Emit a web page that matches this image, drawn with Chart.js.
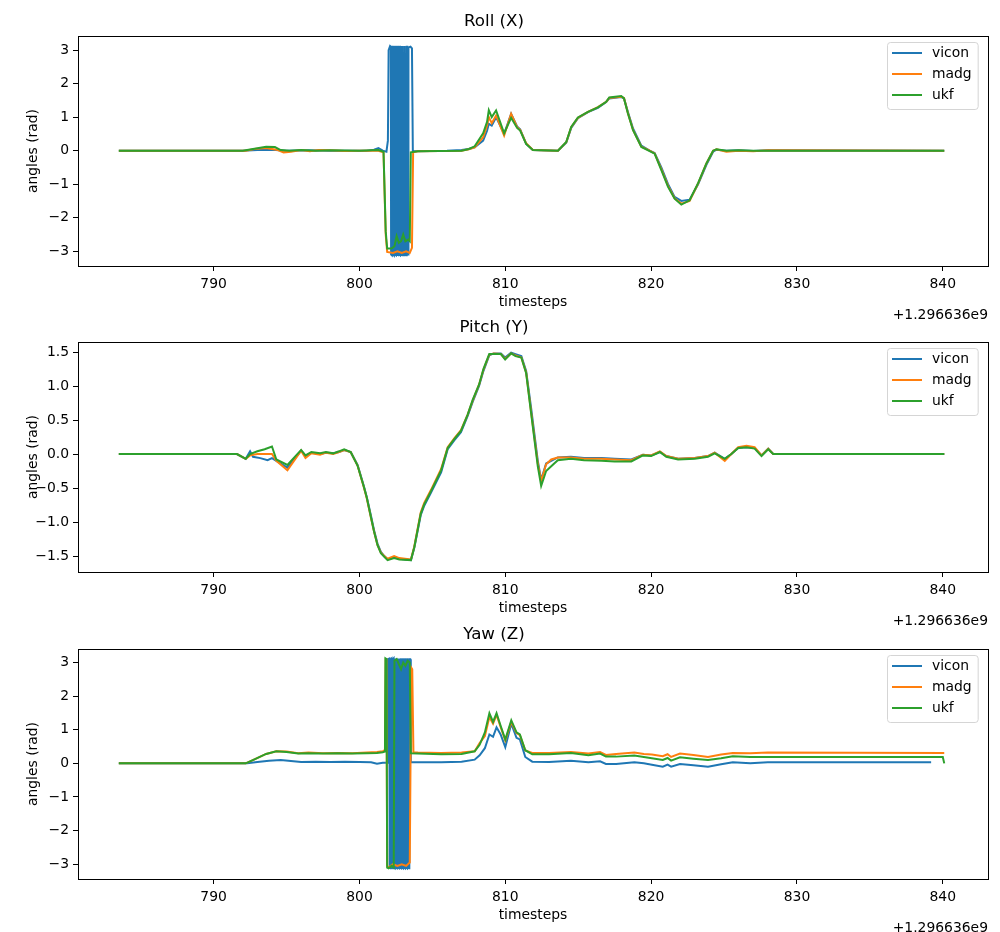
<!DOCTYPE html>
<html>
<head>
<meta charset="utf-8">
<script src="https://cdn.jsdelivr.net/npm/chart.js@4.4.0/dist/chart.umd.min.js"></script>
<style>
  html, body { margin: 0; padding: 0; background: #fff; }
  #wrap { position: relative; width: 1000px; height: 932px; overflow: hidden; }
  #wrap canvas { position: absolute; left: 0; }
</style>
</head>
<body>
<div id="wrap">
  <canvas id="roll" width="1000" height="330" style="top:0px"></canvas>
  <canvas id="pitch" width="1000" height="330" style="top:306px"></canvas>
  <canvas id="yaw" width="1000" height="330" style="top:613px"></canvas>
</div>
<script>
// timestamps are shown relative to the offset +1.296636e9
const offsetLabel = '+1.296636e9'
const seriesNames = ['vicon', 'madg', 'ukf']
const seriesColors = ['#1f77b4', '#ff7f0e', '#2ca02c']
const xTicks = [790, 800, 810, 820, 830, 840]
const rollTicks = [-3, -2, -1, 0, 1, 2, 3]
const pitchTicks = [-1.5, -1.0, -0.5, 0.0, 0.5, 1.0, 1.5]
const yawTicks = [-3, -2, -1, 0, 1, 2, 3]

const rollVicon = [[783.5,0],[792.0,0],[793.0,0.02],[794.0,0.03],[795.0,0.0],[796.5,0.01],[798,0.0],[800.5,0.0],[801.0,0.03],[801.3,0.08],[801.6,0.0],[801.85,-0.03],[801.95,0.3],[802.0,3.0],[802.1,3.12],
  [802.15,3.1],[802.17,-3.1],[802.22,-3.12],[802.24,3.1],[802.3,3.12],[802.32,-3.1],[802.36,-3.12],[802.38,3.1],[802.42,3.12],[802.44,-3.1],[802.5,-3.12],[802.52,3.1],[802.56,3.12],[802.58,-3.1],[802.64,-3.11],[802.66,3.1],[802.7,3.12],[802.72,-3.1],[802.78,-3.12],[802.8,3.1],[802.84,3.12],[802.86,-3.1],[802.92,-3.12],[802.94,3.1],[802.98,3.12],[803.0,-3.1],[803.06,-3.12],[803.08,3.1],[803.12,3.12],[803.14,-3.1],[803.22,-3.12],[803.24,3.1],[803.28,3.1],[803.3,-3.1],[803.34,-3.1],[803.36,3.08],[803.5,3.1],[803.6,3.05],[803.66,0.0],[803.8,-0.02],
  [806,0.0],[807,0.02],[807.5,0.05],[807.9,0.1],[808.48,0.3],[808.75,0.6],[808.87,0.8],[809.07,0.75],[809.37,1.0],[809.92,0.5],[810.4,1.1],[810.81,0.72],[811.02,0.64],[811.43,0.2],[811.89,0.02],[813.61,0],[814.18,0.24],[814.52,0.68],[814.98,0.97],[815.67,1.15],[816.35,1.28],[816.92,1.45],[817.13,1.56],[817.95,1.6],[818.14,1.56],[818.41,1.15],[818.76,0.66],[819.33,0.15],[819.9,0.0],[820.24,-0.07],[820.7,-0.5],[821.16,-1.0],[821.61,-1.38],[822.07,-1.5],[822.64,-1.46],[823.22,-1.0],[823.79,-0.42],[824.25,-0.03],[824.48,0.03],[825.16,0.0],[826,0.01],[827,-0.01],[828,0.01],[840.1,0.0]]
const rollMadg = [[783.5,0],[792.2,0],[792.8,0.05],[793.6,0.08],[794.4,0.02],[794.8,-0.05],[795.3,-0.03],[796,0.02],[796.6,-0.02],[797.2,0.02],[798,0.01],[799,-0.01],[800,0],[801.3,0.0],[801.65,-0.05],[801.8,-2.5],[801.9,-3.02],[802.3,-3.05],[802.6,-3.0],[802.9,-3.05],[803.2,-3.0],[803.45,-3.05],[803.6,-2.9],[803.68,-0.05],[804,-0.02],
  [807,0.0],[807.5,0.04],[807.9,0.1],[808.48,0.4],[808.75,0.75],[808.87,1.0],[809.07,0.82],[809.37,1.05],[809.92,0.45],[810.4,1.1],[810.81,0.7],[811.02,0.62],[811.43,0.22],[811.89,0.02],[813.61,0],[814.18,0.25],[814.52,0.7],[814.98,0.98],[815.67,1.16],[816.35,1.3],[816.92,1.46],[817.13,1.57],[817.95,1.61],[818.14,1.57],[818.41,1.12],[818.76,0.62],[819.33,0.12],[819.9,0.0],[820.24,-0.08],[820.7,-0.55],[821.16,-1.05],[821.61,-1.42],[822.07,-1.58],[822.64,-1.5],[823.22,-0.98],[823.79,-0.38],[824.25,0.0],[824.48,0.04],[825.16,-0.03],[826,0.0],[827,-0.02],[828,0.01],[840.1,0.0]]
const rollUkf = [[783.5,0],[792.0,0],[792.8,0.06],[793.6,0.12],[794.2,0.11],[794.6,0.02],[795.2,0.0],[796,0.02],[797,0.0],[798,0.01],[800,0],[801.3,0.02],[801.65,-0.03],[801.8,-2.4],[801.9,-2.92],[802.2,-2.92],[802.4,-2.85],[802.55,-2.55],[802.7,-2.75],[802.85,-2.7],[803.0,-2.5],[803.15,-2.7],[803.35,-2.65],[803.45,-2.7],[803.52,-0.05],[804,-0.02],
  [807,0.0],[807.5,0.05],[807.9,0.13],[808.48,0.52],[808.75,0.86],[808.87,1.21],[809.07,1.0],[809.37,1.2],[809.92,0.52],[810.4,0.98],[810.81,0.68],[811.02,0.6],[811.43,0.2],[811.89,0.02],[813.61,0],[814.18,0.26],[814.52,0.71],[814.98,0.99],[815.67,1.16],[816.35,1.29],[816.92,1.46],[817.13,1.59],[817.95,1.63],[818.14,1.56],[818.41,1.11],[818.76,0.61],[819.33,0.11],[819.9,-0.01],[820.24,-0.09],[820.7,-0.58],[821.16,-1.08],[821.61,-1.43],[822.07,-1.61],[822.64,-1.48],[823.22,-0.97],[823.79,-0.38],[824.25,0.0],[824.48,0.04],[825.16,0.0],[826,0.01],[827,0.0],[828,0.0],[840.1,0.0]]

const pitchVicon = [[783.5,0],[791.6,0],[792.2,-0.07],[792.5,0.04],[792.7,-0.04],[793.2,-0.06],[793.7,-0.09],[794.0,-0.06],[794.3,-0.1],[795.06,-0.2],[796.0,0.05],[796.3,-0.03],[796.7,0.02],[797.3,0.0],[797.7,0.02],[798.2,0.01],[798.6,0.03],[798.95,0.06],[799.4,0.03],[799.87,-0.16],[800.3,-0.47],[800.5,-0.63],[800.8,-0.92],[801.0,-1.12],[801.24,-1.32],[801.47,-1.44],[801.7,-1.5],[801.93,-1.55],[802.38,-1.52],[802.73,-1.54],[803.53,-1.56],[803.76,-1.38],[804.2,-0.9],[804.44,-0.76],[804.9,-0.57],[805.6,-0.27],[806.05,0.07],[806.5,0.2],[806.96,0.32],[807.42,0.56],[807.77,0.77],[808.2,1.0],[808.5,1.22],[808.9,1.45],[809.2,1.48],[809.7,1.48],[809.99,1.42],[810.4,1.49],[810.7,1.47],[811.1,1.44],[811.43,1.22],[811.77,0.68],[812.23,-0.1],[812.46,-0.38],[812.8,-0.14],[813.15,-0.1],[813.6,-0.05],[814.5,-0.04],[815.4,-0.06],[816.6,-0.06],[817.5,-0.07],[818.64,-0.08],[819.44,-0.01],[820.0,-0.02],[820.6,0.03],[821.04,-0.03],[821.85,-0.07],[822.99,-0.06],[823.9,-0.03],[824.36,0.02],[825.05,-0.07],[825.5,0.0],[825.97,0.09],[826.54,0.1],[827.1,0.09],[827.57,-0.02],[828.03,0.08],[828.37,0.0],[840.1,0.0]]
const pitchMadg = [[783.5,0],[791.6,0],[792.2,-0.07],[792.5,-0.02],[793.0,0.0],[793.5,0.0],[794.0,0.0],[794.3,-0.1],[795.06,-0.24],[796.0,0.05],[796.3,-0.06],[796.7,0.01],[797.3,-0.01],[797.7,0.02],[798.2,0.0],[798.6,0.03],[798.95,0.06],[799.4,0.03],[799.87,-0.17],[800.3,-0.49],[800.5,-0.65],[800.8,-0.95],[801.0,-1.14],[801.24,-1.34],[801.47,-1.45],[801.7,-1.5],[801.93,-1.54],[802.38,-1.5],[802.73,-1.53],[803.53,-1.55],[803.76,-1.36],[804.2,-0.86],[804.44,-0.72],[804.9,-0.53],[805.6,-0.22],[806.05,0.1],[806.5,0.23],[806.96,0.35],[807.42,0.58],[807.77,0.79],[808.2,1.02],[808.5,1.24],[808.9,1.46],[809.2,1.48],[809.7,1.47],[809.99,1.4],[810.4,1.48],[810.7,1.45],[811.1,1.42],[811.43,1.2],[811.77,0.62],[812.23,-0.14],[812.46,-0.4],[812.8,-0.15],[813.15,-0.08],[813.6,-0.05],[814.5,-0.05],[815.4,-0.07],[816.6,-0.07],[817.5,-0.08],[818.64,-0.09],[819.44,-0.01],[820.0,-0.02],[820.6,0.04],[821.04,-0.03],[821.85,-0.07],[822.99,-0.06],[823.9,-0.03],[824.36,0.02],[825.05,-0.1],[825.5,0.0],[825.97,0.1],[826.54,0.12],[827.1,0.1],[827.57,-0.02],[828.03,0.08],[828.37,0.0],[840.1,0.0]]
const pitchUkf = [[783.5,0],[791.6,0],[792.2,-0.07],[792.5,0.0],[793.0,0.04],[793.5,0.07],[794.0,0.11],[794.3,-0.08],[795.06,-0.16],[796.0,0.06],[796.3,-0.02],[796.7,0.03],[797.3,0.01],[797.7,0.03],[798.2,0.01],[798.6,0.04],[798.95,0.07],[799.4,0.03],[799.87,-0.17],[800.3,-0.48],[800.5,-0.64],[800.8,-0.94],[801.0,-1.14],[801.24,-1.34],[801.47,-1.46],[801.7,-1.51],[801.93,-1.56],[802.38,-1.53],[802.73,-1.55],[803.53,-1.56],[803.76,-1.37],[804.2,-0.88],[804.44,-0.74],[804.9,-0.55],[805.6,-0.24],[806.05,0.09],[806.5,0.22],[806.96,0.34],[807.42,0.58],[807.77,0.8],[808.2,1.02],[808.5,1.25],[808.9,1.47],[809.2,1.47],[809.7,1.47],[809.99,1.39],[810.4,1.48],[810.7,1.44],[811.1,1.42],[811.43,1.19],[811.77,0.6],[812.23,-0.18],[812.46,-0.47],[812.8,-0.25],[813.15,-0.18],[813.6,-0.09],[814.5,-0.07],[815.4,-0.09],[816.6,-0.1],[817.5,-0.11],[818.64,-0.11],[819.44,-0.02],[820.0,-0.03],[820.6,0.03],[821.04,-0.04],[821.85,-0.08],[822.99,-0.07],[823.9,-0.04],[824.36,0.01],[825.05,-0.07],[825.5,0.0],[825.97,0.09],[826.54,0.1],[827.1,0.08],[827.57,-0.03],[828.03,0.07],[828.37,0.0],[840.1,0.0]]

const yawVicon = [[783.5,0],[792.3,0],[793.0,0.04],[793.8,0.08],[794.6,0.1],[795.3,0.07],[796.0,0.04],[797,0.05],[798,0.04],[799,0.05],[800,0.04],[800.8,0.03],[801.2,-0.01],[801.6,0.02],[801.9,0.02],[801.95,3.1],
  [802.05,3.12],[802.07,-3.1],[802.13,-3.12],[802.15,3.1],[802.2,3.12],[802.22,-3.1],[802.28,-3.12],[802.3,3.1],[802.34,3.12],[802.36,-3.1],[802.42,-3.12],[802.44,3.1],[802.48,3.12],[802.5,-3.1],[802.56,-3.12],[802.58,3.1],[802.62,3.12],[802.64,-3.1],[802.7,-3.12],[802.72,3.1],[802.76,3.12],[802.78,-3.1],[802.84,-3.12],[802.86,3.1],[802.9,3.12],[802.92,-3.1],[802.98,-3.12],[803.0,3.1],[803.04,3.12],[803.06,-3.1],[803.12,-3.12],[803.14,3.1],[803.18,3.12],[803.2,-3.1],[803.26,-3.12],[803.28,3.1],[803.32,3.12],[803.34,-3.1],[803.4,-3.12],[803.42,3.1],[803.48,3.1],[803.52,0.03],
  [804,0.03],[805.6,0.03],[807.0,0.05],[807.9,0.11],[808.24,0.24],[808.6,0.45],[808.91,0.86],[809.16,0.79],[809.4,1.07],[809.68,0.86],[810.0,0.48],[810.41,1.18],[810.77,0.76],[811.0,0.71],[811.37,0.19],[811.85,0.05],[813,0.04],[814.5,0.08],[815.7,0.03],[816.5,0.06],[816.9,-0.02],[817.6,-0.02],[818.85,0.03],[819.5,0.0],[820.05,-0.04],[820.8,-0.1],[821.13,-0.04],[821.37,-0.1],[821.98,-0.02],[822.9,-0.06],[823.9,-0.1],[824.8,-0.03],[825.6,0.03],[826.8,0.0],[828.0,0.03],[839.2,0.03]]
const yawMadg = [[783.5,0],[792.2,0],[792.8,0.12],[793.6,0.28],[794.3,0.36],[795.0,0.35],[795.8,0.3],[796.5,0.32],[797.5,0.3],[798.5,0.31],[799.5,0.3],[800.5,0.32],[801.2,0.34],[801.6,0.36],[801.75,0.4],[801.8,3.1],[801.85,3.1],[801.9,-3.05],[802.0,-3.1],[802.3,-3.0],[802.6,-3.05],[802.9,-3.0],[803.2,-3.05],[803.45,-2.95],[803.55,2.85],[803.62,2.8],[803.7,0.33],
  [804,0.32],[805.6,0.31],[807.0,0.32],[807.9,0.36],[808.24,0.6],[808.6,0.81],[808.91,1.38],[809.16,1.18],[809.4,1.44],[809.68,1.08],[810.0,0.68],[810.41,1.23],[810.77,0.9],[811.0,0.84],[811.37,0.38],[811.85,0.31],[813,0.31],[814.5,0.34],[815.7,0.29],[816.5,0.34],[816.9,0.25],[817.6,0.28],[818.85,0.32],[819.5,0.28],[820.05,0.26],[820.8,0.21],[821.13,0.27],[821.37,0.19],[821.98,0.29],[822.9,0.25],[823.9,0.19],[824.8,0.26],[825.6,0.31],[826.8,0.3],[828.0,0.32],[840.1,0.31]]
const yawUkf = [[783.5,0],[792.2,0],[792.8,0.12],[793.6,0.28],[794.3,0.36],[795.0,0.34],[795.8,0.29],[796.5,0.3],[797.5,0.29],[798.5,0.3],[799.5,0.29],[800.5,0.3],[801.2,0.31],[801.6,0.33],[801.75,0.35],[801.78,3.12],[801.85,3.1],[801.9,-3.1],[802.0,-3.12],[802.2,-3.05],[802.35,-3.1],[802.4,3.05],[802.55,3.1],[802.7,2.95],[802.85,2.8],[803.0,3.0],[803.15,2.9],[803.3,3.05],[803.45,3.0],[803.52,0.3],
  [804,0.29],[805.6,0.27],[807.0,0.28],[807.9,0.36],[808.24,0.55],[808.6,0.92],[808.91,1.49],[809.16,1.23],[809.4,1.49],[809.68,1.12],[810.0,0.71],[810.41,1.28],[810.77,0.92],[811.0,0.86],[811.37,0.39],[811.85,0.27],[813,0.27],[814.5,0.31],[815.7,0.24],[816.5,0.29],[816.9,0.2],[817.6,0.2],[818.85,0.23],[819.5,0.19],[820.05,0.155],[820.8,0.1],[821.13,0.16],[821.37,0.08],[821.98,0.18],[822.9,0.14],[823.9,0.1],[824.8,0.15],[825.6,0.21],[826.8,0.19],[828.0,0.19],[840.0,0.19],[840.1,0.0]]

const FONT = 'DejaVu Sans'

// axes box on all four sides, like matplotlib spines
const frame = {
  id: 'frame',
  afterDraw(chart) {
    const { ctx, chartArea: a } = chart
    ctx.save()
    ctx.strokeStyle = '#000'
    ctx.lineWidth = 1
    ctx.strokeRect(Math.round(a.left) + 0.5, Math.round(a.top) + 0.5, Math.round(a.right - a.left), Math.round(a.bottom - a.top))
    ctx.restore()
  }
}

// legend drawn inside the plot, upper right
const boxLegend = {
  id: 'boxLegend',
  afterDraw(chart) {
    const { ctx, chartArea: a } = chart
    const sets = chart.data.datasets
    ctx.save()
    ctx.font = '13.9px "' + FONT + '"'
    const tw = Math.max(...sets.map(d => ctx.measureText(d.label).width))
    const w = 45 + tw + 6, h = 67
    const x = Math.round(a.right - 10 - w), y = Math.round(a.top + 6)
    ctx.beginPath()
    ctx.roundRect(x + 0.5, y + 0.5, w, h, 3)
    ctx.fillStyle = 'rgba(255,255,255,0.8)'
    ctx.fill()
    ctx.strokeStyle = '#d5d5d5'
    ctx.lineWidth = 1
    ctx.stroke()
    sets.forEach((d, i) => {
      const cy = y + 11 + i * 21
      ctx.strokeStyle = d.borderColor
      ctx.lineWidth = 2
      ctx.beginPath()
      ctx.moveTo(x + 5, cy)
      ctx.lineTo(x + 35, cy)
      ctx.stroke()
      ctx.fillStyle = '#000'
      ctx.textBaseline = 'middle'
      ctx.textAlign = 'left'
      ctx.fillText(d.label, x + 45, cy)
    })
    ctx.restore()
  }
}

const offsetText = {
  id: 'offsetText',
  afterDraw(chart) {
    const { ctx, chartArea: a } = chart
    ctx.save()
    ctx.font = '13.9px "' + FONT + '"'
    ctx.fillStyle = '#000'
    ctx.textAlign = 'right'
    ctx.textBaseline = 'middle'
    ctx.fillText(offsetLabel, a.right, a.bottom + 49)
    ctx.restore()
  }
}

const fmt = (dec) => (v) => (v < 0 ? '\u2212' : '') + Math.abs(v).toFixed(dec)

function makeChart(id, title, series, yMin, yMax, yTicks, dec) {
  new Chart(document.getElementById(id), {
    type: 'line',
    data: {
      datasets: series.map((s, i) => ({
        label: seriesNames[i],
        data: s.map(([x, y]) => ({ x, y })),
        borderColor: seriesColors[i],
        backgroundColor: seriesColors[i],
        borderWidth: 2,
        pointRadius: 0,
        tension: 0,
        fill: false,
        order: 2 - i
      }))
    },
    options: {
      responsive: false,
      animation: false,
      devicePixelRatio: 1,
      layout: { padding: { left: 0, right: 12, top: 0, bottom: 0 } },
      plugins: {
        legend: { display: false },
        tooltip: { enabled: false },
        title: {
          display: true,
          text: title,
          color: '#000',
          font: { family: FONT, size: 16.7, weight: 'normal', lineHeight: 1.2 },
          padding: { top: 12, bottom: 4 }
        }
      },
      scales: {
        x: {
          type: 'linear',
          min: 780.7,
          max: 843.1,
          afterBuildTicks: (axis) => { axis.ticks = xTicks.map(v => ({ value: v })) },
          afterFit: (axis) => { axis.height = 64 },
          ticks: { color: '#000', padding: 5, maxRotation: 0, autoSkip: false, font: { family: FONT, size: 13.9 }, callback: fmt(0) },
          grid: { display: true, drawOnChartArea: false, drawTicks: true, tickLength: 5, tickColor: '#000', tickWidth: 1 },
          border: { display: false },
          title: { display: true, text: 'timesteps', color: '#000', font: { family: FONT, size: 13.9, lineHeight: 1.2 }, padding: { top: 0, bottom: 19.5 } }
        },
        y: {
          type: 'linear',
          min: yMin,
          max: yMax,
          afterBuildTicks: (axis) => { axis.ticks = yTicks.map(v => ({ value: v })) },
          afterFit: (axis) => { axis.width = 78 },
          ticks: { color: '#000', padding: 4, autoSkip: false, font: { family: FONT, size: 13.9 }, callback: fmt(dec) },
          grid: { display: true, drawOnChartArea: false, drawTicks: true, tickLength: 5, tickColor: '#000', tickWidth: 1 },
          border: { display: false },
          title: { display: true, text: 'angles (rad)', color: '#000', font: { family: FONT, size: 13.9, lineHeight: 1.2 }, padding: { top: 25.5, bottom: 0 } }
        }
      }
    },
    plugins: [frame, boxLegend, offsetText]
  })
}

makeChart('roll', 'Roll (X)', [rollVicon, rollMadg, rollUkf], -3.44, 3.42, rollTicks, 0)
makeChart('pitch', 'Pitch (Y)', [pitchVicon, pitchMadg, pitchUkf], -1.735, 1.647, pitchTicks, 1)
makeChart('yaw', 'Yaw (Z)', [yawVicon, yawMadg, yawUkf], -3.44, 3.40, yawTicks, 0)
</script>
</body>
</html>
